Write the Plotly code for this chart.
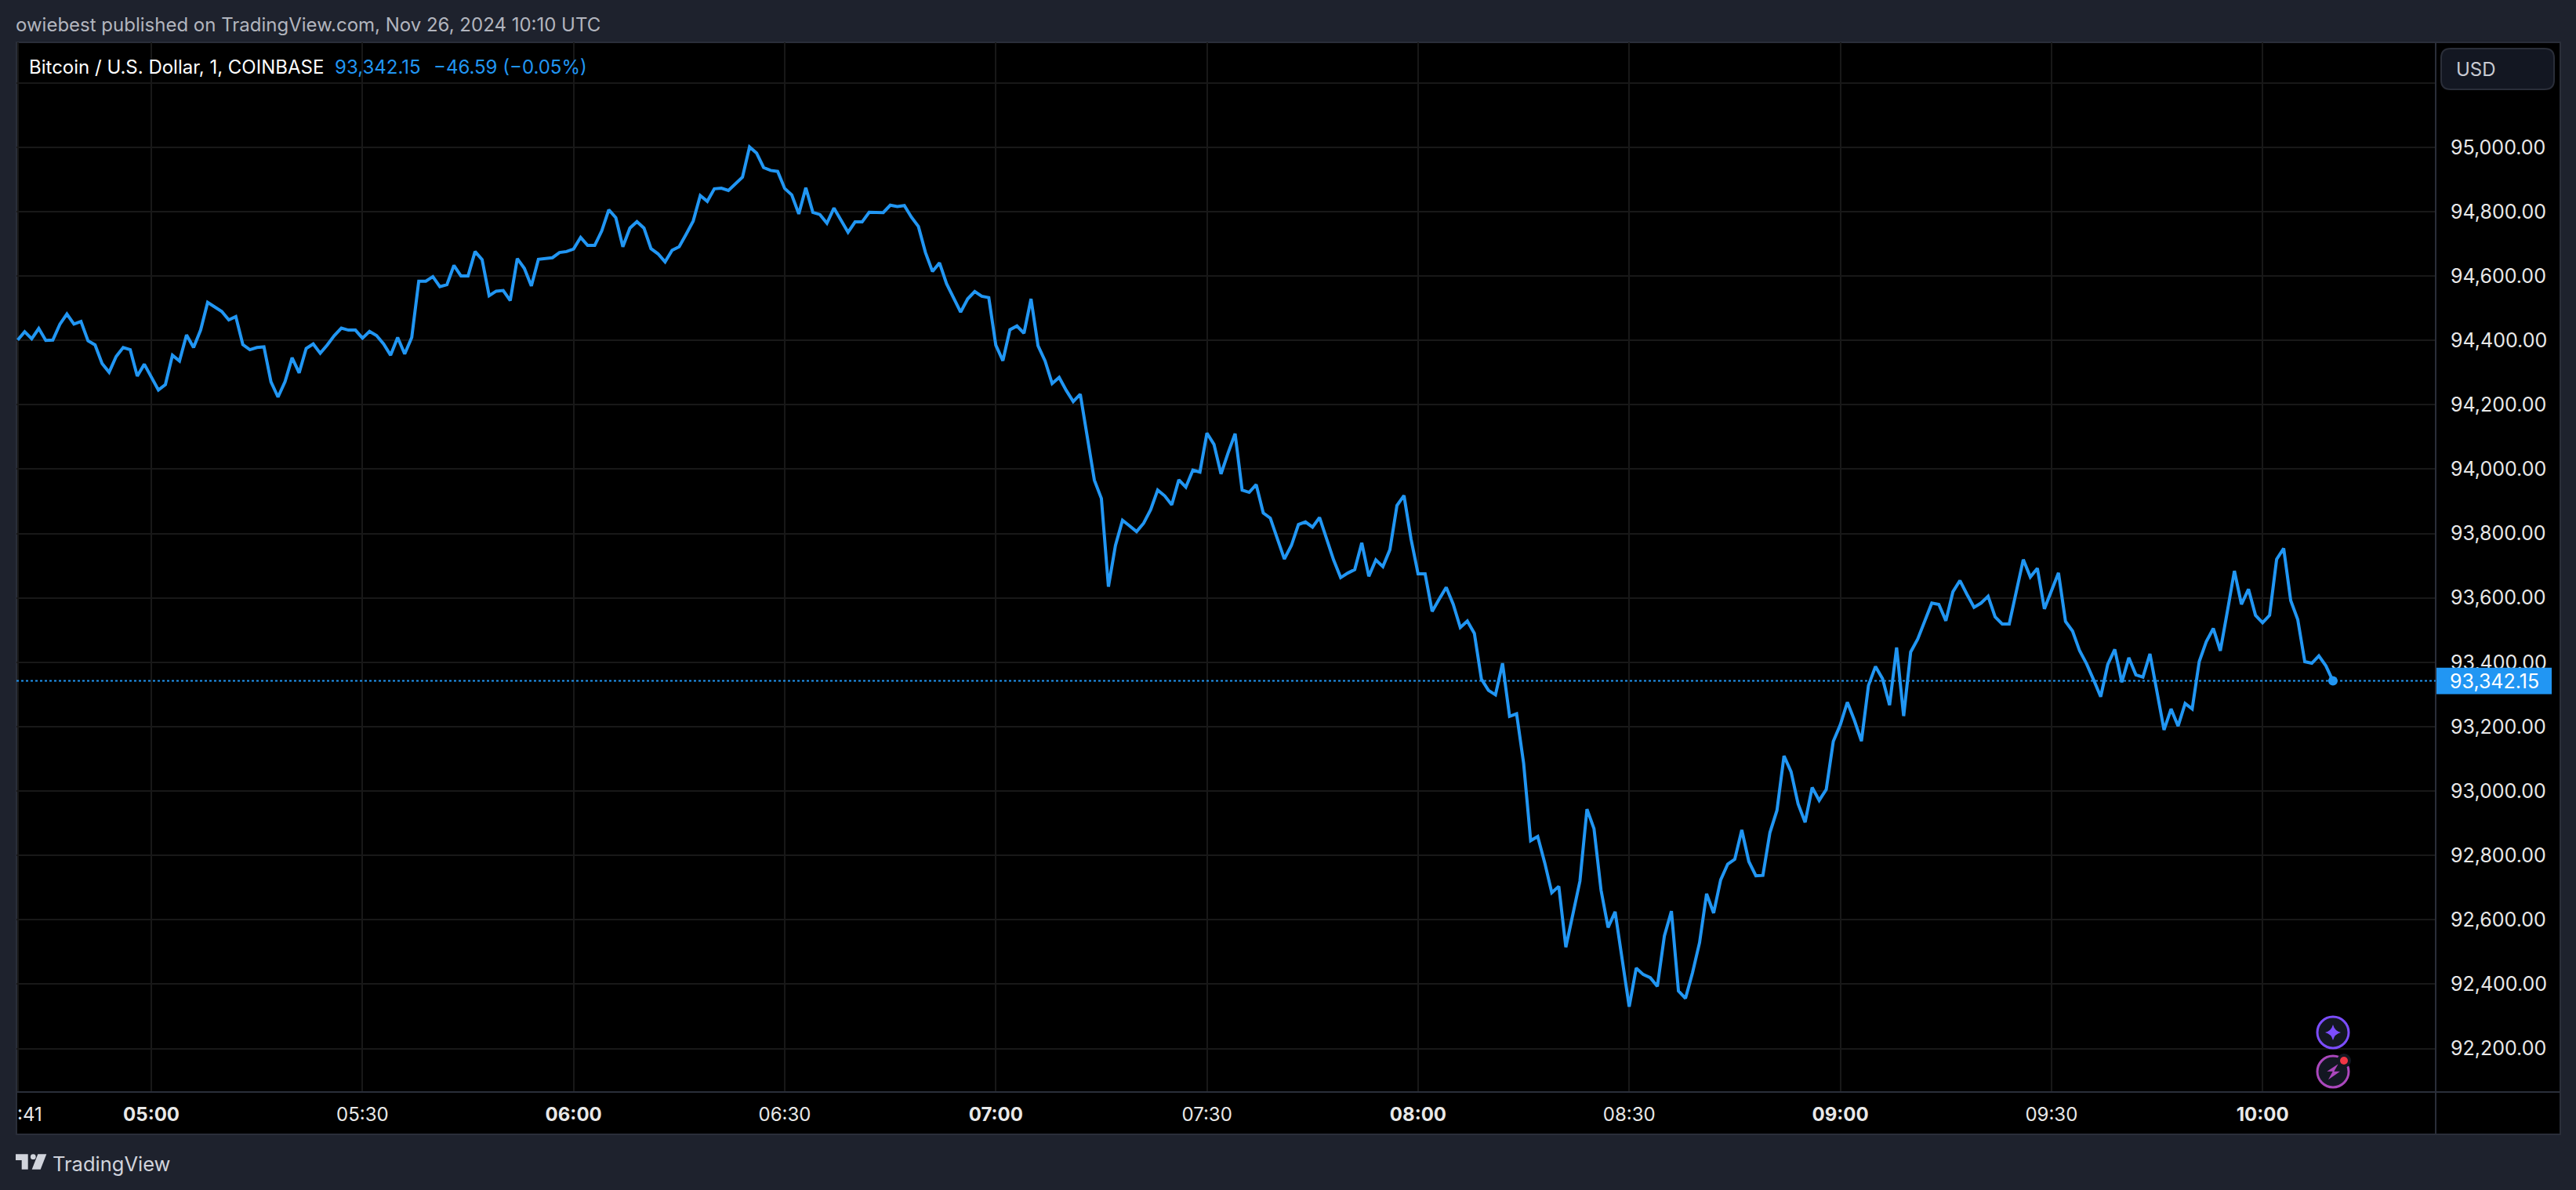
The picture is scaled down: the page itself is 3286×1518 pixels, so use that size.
import pandas as pd
import plotly.graph_objects as go

# one value per minute, 04:41 -> 10:10
prices = [
    94401, 94427, 94405, 94437, 94400, 94401, 94450, 94482, 94451, 94459,
    94399, 94386, 94328, 94301, 94350, 94378, 94371, 94289, 94326, 94287,
    94246, 94263, 94354, 94336, 94417, 94378, 94432, 94518, 94505, 94490,
    94464, 94474, 94387, 94371, 94378, 94380, 94271, 94224, 94272, 94346,
    94299, 94375, 94389, 94360, 94386, 94415, 94438, 94432, 94432, 94407,
    94428, 94415, 94389, 94354, 94409, 94358, 94409, 94584, 94584, 94598,
    94567, 94573, 94633, 94600, 94600, 94676, 94651, 94539, 94553, 94555,
    94524, 94654, 94624, 94569, 94652, 94655, 94657, 94673, 94676, 94684,
    94720, 94695, 94695, 94740, 94806, 94781, 94691, 94749, 94769, 94749,
    94685, 94669, 94644, 94680, 94691, 94730, 94771, 94850, 94832, 94871,
    94873, 94866, 94885, 94907, 95001, 94982, 94937, 94928, 94925, 94872,
    94852, 94793, 94874, 94798, 94791, 94764, 94811, 94775, 94736, 94768,
    94768, 94798, 94797, 94797, 94820, 94816, 94819, 94783, 94754, 94673,
    94614, 94641, 94576, 94533, 94488, 94529, 94552, 94537, 94533, 94385,
    94337, 94433, 94445, 94422, 94529, 94383, 94336, 94266, 94285, 94245,
    94210, 94233, 94096, 93966, 93909, 93635, 93763, 93841, 93824, 93806,
    93832, 93874, 93935, 93917, 93889, 93967, 93944, 93997, 93991, 94112,
    94077, 93985, 94050, 94110, 93935, 93928, 93952, 93864, 93848, 93783,
    93721, 93763, 93828, 93836, 93820, 93850, 93783, 93718, 93663, 93677,
    93688, 93771, 93667, 93718, 93697, 93750, 93887, 93918, 93783, 93675,
    93675, 93558, 93596, 93633, 93580, 93508, 93528, 93490, 93348, 93313,
    93299, 93397, 93232, 93240, 93086, 92846, 92859, 92777, 92684, 92704,
    92515, 92619, 92720, 92944, 92883, 92692, 92576, 92625, 92480, 92330,
    92450, 92430, 92420, 92393, 92550, 92627, 92379, 92356, 92436, 92529,
    92681, 92621, 92724, 92773, 92788, 92879, 92781, 92737, 92738, 92871,
    92940, 93109, 93060, 92960, 92903, 93011, 92971, 93005, 93154, 93206,
    93276, 93220, 93155, 93328, 93387, 93349, 93267, 93446, 93233, 93432,
    93472, 93529, 93584, 93580, 93529, 93619, 93654, 93611, 93571, 93584,
    93605, 93541, 93519, 93519, 93619, 93719, 93665, 93692, 93566, 93619,
    93678, 93527, 93497, 93436, 93395, 93345, 93293, 93393, 93440, 93338,
    93414, 93361, 93354, 93426, 93310, 93190, 93255, 93202, 93272, 93255,
    93402, 93464, 93505, 93436, 93558, 93684, 93580, 93627, 93546, 93523,
    93546, 93720, 93754, 93592, 93533, 93402, 93397, 93420, 93389, 93342.15,
]
times = pd.date_range("2024-11-26 04:41", periods=len(prices), freq="min")

last_price = 93342.15
price_ticks = [92200 + 200 * i for i in range(16)]
# top grid line sits behind the USD box, it has no label
price_labels = [f"{p:,.2f}" if p < 95200 else "" for p in price_ticks]
time_ticks = ["04:41", "05:00", "05:30", "06:00", "06:30", "07:00", "07:30",
              "08:00", "08:30", "09:00", "09:30", "10:00"]
# the first label is clipped to ":41" in the original, drawn as an annotation below
time_labels = ["", "<b>05:00</b>", "05:30", "<b>06:00</b>", "06:30", "<b>07:00</b>", "07:30",
               "<b>08:00</b>", "08:30", "<b>09:00</b>", "09:30", "<b>10:00</b>"]

W, H = 3286, 1518
LEFT, RIGHT, TOP, BOTTOM = 21, 3107, 54, 1393
FONT = "Inter"
BLUE = "#2196f3"
PAPER = "#1e222d"
BORDER = "#2a2e39"
GRID = "#181818"


def px(x):
    return (x - LEFT) / (RIGHT - LEFT)


def py(y):
    return (BOTTOM - y) / (BOTTOM - TOP)


def rect(x0, y0, x1, y1, fill, line=None, layer="above"):
    return dict(type="rect", xref="paper", yref="paper", x0=px(x0), x1=px(x1), y0=py(y0), y1=py(y1),
                fillcolor=fill, line=dict(color=line or fill, width=2 if line else 0), layer=layer)


def poly(points, fill, close=True):
    path = "M " + " L ".join(f"{px(a)},{py(b)}" for a, b in points) + (" Z" if close else "")
    return dict(type="path", xref="paper", yref="paper", path=path, fillcolor=fill,
                line=dict(width=0), layer="above")


def circle(cx, cy, r, fill, line=None, width=0):
    return dict(type="circle", xref="paper", yref="paper", x0=px(cx - r), x1=px(cx + r),
                y0=py(cy + r), y1=py(cy - r), fillcolor=fill,
                line=dict(color=line or fill, width=width), layer="above")


def label(x, y, text, size, color, anchor="left"):
    return dict(xref="paper", yref="paper", x=px(x), y=py(y), text=text, showarrow=False,
                xanchor=anchor, yanchor="middle", font=dict(family=FONT, size=size, color=color),
                borderpad=0, borderwidth=0)


fig = go.Figure()
fig.add_trace(go.Scatter(x=times, y=prices, mode="lines", line=dict(color=BLUE, width=4), hoverinfo="skip"))
fig.add_trace(go.Scatter(x=[times[-1]], y=[last_price], mode="markers",
                         marker=dict(color=BLUE, size=12), hoverinfo="skip"))

# rounded USD box
bx0, by0, bx1, by1, rr = 3114, 62, 3258, 114, 12
usd_box = ("M {},{} L {},{} Q {},{} {},{} L {},{} Q {},{} {},{} L {},{} Q {},{} {},{} L {},{} Q {},{} {},{} Z".format(
    px(bx0 + rr), py(by0), px(bx1 - rr), py(by0), px(bx1), py(by0), px(bx1), py(by0 + rr),
    px(bx1), py(by1 - rr), px(bx1), py(by1), px(bx1 - rr), py(by1),
    px(bx0 + rr), py(by1), px(bx0), py(by1), px(bx0), py(by1 - rr),
    px(bx0), py(by0 + rr), px(bx0), py(by0), px(bx0 + rr), py(by0)))

# four pointed star in the purple badge
sx, sy, sr = 2976, 1317, 10
star = ("M {},{} Q {},{} {},{} Q {},{} {},{} Q {},{} {},{} Q {},{} {},{} Z".format(
    px(sx), py(sy - sr), px(sx + 2), py(sy - 2), px(sx + sr), py(sy),
    px(sx + 2), py(sy + 2), px(sx), py(sy + sr),
    px(sx - 2), py(sy + 2), px(sx - sr), py(sy),
    px(sx - 2), py(sy - 2), px(sx), py(sy - sr)))

shapes = [
    # black chart frame with the axis strips
    rect(LEFT, TOP, 3266, 1447, "#000000", BORDER, layer="below"),
    dict(type="line", xref="paper", yref="paper", x0=1, x1=1, y0=py(TOP), y1=py(1447),
         line=dict(color=BORDER, width=2), layer="above"),
    dict(type="line", xref="paper", yref="paper", x0=0, x1=px(3266), y0=0, y1=0,
         line=dict(color=BORDER, width=2), layer="above"),
    # last price
    dict(type="line", xref="paper", yref="y", x0=0, x1=1, y0=last_price, y1=last_price,
         line=dict(color=BLUE, width=2, dash="dot"), layer="above"),
    dict(type="rect", xref="paper", yref="y", x0=px(3108), x1=px(3255), y0=last_price - 41, y1=last_price + 41,
         fillcolor=BLUE, line=dict(width=0), layer="above"),
    dict(type="path", xref="paper", yref="paper", path=usd_box, fillcolor="#131722",
         line=dict(color=BORDER, width=2), layer="above"),
    # badges
    circle(2976, 1317, 20, "#131722", "#7c4dff", 3),
    dict(type="path", xref="paper", yref="paper", path=star, fillcolor="#7c4dff", line=dict(width=0), layer="above"),
    circle(2976, 1367, 20, "#131722", "#ab47bc", 3),
    poly([(2982.7, 1357.3), (2968.3, 1366.7), (2975.7, 1366.7), (2970, 1377.3), (2985, 1366.7), (2977.3, 1366.7)], "#ab47bc"),
    circle(2990, 1353, 9, "#131722"),
    circle(2990, 1353, 5, "#f23645"),
    # TradingView logo
    poly([(20, 1472.3), (35.7, 1472.3), (35.7, 1491.7), (27.7, 1491.7), (27.7, 1480), (20, 1480)], "#d1d4dc"),
    circle(42.3, 1475.7, 3.4, "#d1d4dc"),
    poly([(48.3, 1472.3), (59.3, 1472.3), (51.7, 1491.7), (40.7, 1491.7)], "#d1d4dc"),
]

annotations = [
    label(20, 31, "owiebest published on TradingView.com, Nov 26, 2024 10:10 UTC", 24, "#b2b5be"),
    label(37, 86, "Bitcoin / U.S. Dollar, 1, COINBASE", 24, "#ffffff"),
    label(427, 86, "93,342.15", 24, BLUE),
    label(553, 86, "−46.59 (−0.05%)", 24, BLUE),
    label(3133, 88, "USD", 24, "#c8cad2"),
    label(3125, 869, "93,342.15", 25, "#ffffff"),
    label(22, 1421, ":41", 24, "#e8e8e8"),
    label(67, 1484, "TradingView", 25.5, "#d1d4dc"),
]

fig.update_layout(
    width=W,
    height=H,
    margin=dict(l=LEFT, r=W - RIGHT, t=TOP, b=H - BOTTOM, pad=0, autoexpand=False),
    paper_bgcolor=PAPER,
    plot_bgcolor="#000000",
    showlegend=False,
    shapes=shapes,
    annotations=annotations,
    xaxis=dict(
        type="date",
        range=["2024-11-26 04:40:50", "2024-11-26 10:24:36"],
        tickmode="array",
        tickvals=[f"2024-11-26 {t}" for t in time_ticks],
        ticktext=time_labels,
        ticks="",
        ticklabelstandoff=12,
        tickfont=dict(family=FONT, size=24, color="#e8e8e8"),
        showgrid=True,
        gridcolor=GRID,
        gridwidth=2,
        zeroline=False,
        showline=False,
    ),
    yaxis=dict(
        side="right",
        range=[92065, 95326],
        tickmode="array",
        tickvals=price_ticks,
        ticktext=price_labels,
        ticks="",
        ticklabelstandoff=18,
        tickfont=dict(family=FONT, size=25, color="#e8e8e8"),
        showgrid=True,
        gridcolor=GRID,
        gridwidth=2,
        zeroline=False,
        showline=False,
    ),
)

fig.write_html("out.html", config=dict(displayModeBar=False),
               post_script="document.body.style.margin='0';document.body.style.overflow='hidden';")
